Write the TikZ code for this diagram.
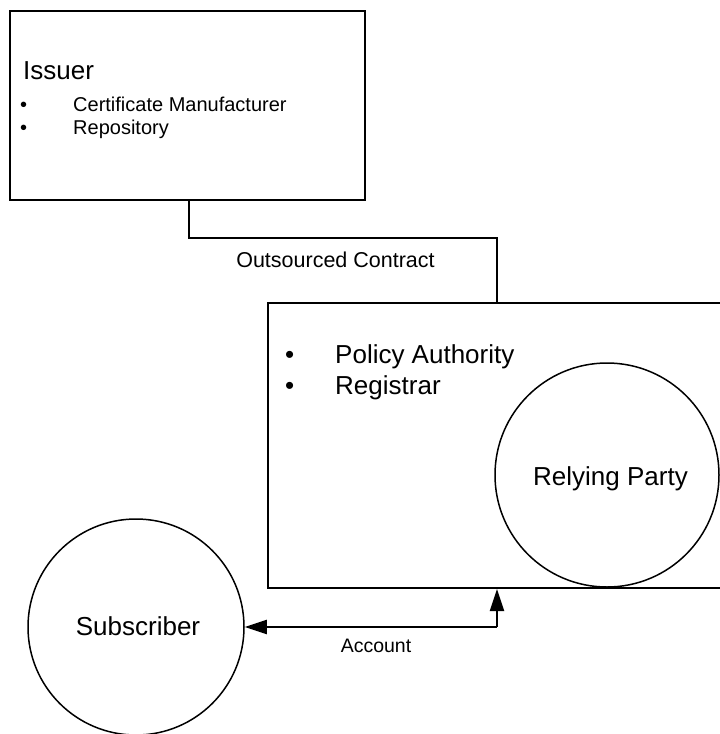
\documentclass[tikz,border=0pt]{standalone}
\usepackage{fontspec}
\setmainfont{Liberation Sans}
\usetikzlibrary{arrows.meta}
\tikzset{
  box/.style={draw, line width=2pt, rectangle, inner sep=0pt},
  party/.style={draw, line width=1.5pt, circle, inner sep=0pt},
  conn/.style={line width=2pt},
  tip/.style={-{Triangle[length=22pt,width=14pt]}},
  big/.style={font=\fontsize{26}{31}\selectfont, inner sep=0pt},
  small/.style={font=\fontsize{20}{23}\selectfont, inner sep=0pt},
}
\begin{document}
\begin{tikzpicture}[x=1pt,y=-1pt]
\clip (0,0) rectangle (720,734);
\fill[white] (0,0) rectangle (720,734);
% boxes
\node[box, minimum width=355pt, minimum height=189pt] (issuer) at (187.5,105.5) {};
\node[box, minimum width=458pt, minimum height=285pt] (org) at (497,445.5) {};
% circles
\node[party, minimum size=224pt] (rp) at (607,475) {};
\node[party, minimum size=216pt] (sub) at (136,627) {};
% texts
\node[big, anchor=base west] (tissuer) at (23,79) {Issuer};
\node[small, anchor=base west] (b1) at (20,111) {•};
\node[small, anchor=base west] (t1) at (73,111) {Certificate Manufacturer};
\node[small, anchor=base west] (b2) at (20,134) {•};
\node[small, anchor=base west] (t2) at (73,134) {Repository};
\node[big, anchor=base west] (b3) at (285,363) {•};
\node[big, anchor=base west] (t3) at (335,363) {Policy Authority};
\node[big, anchor=base west] (b4) at (285,394) {•};
\node[big, anchor=base west] (t4) at (335,394) {Registrar};
\node[big, anchor=base] (trp) at (610.5,485) {Relying Party};
\node[big, anchor=base] (tsub) at (138,635) {Subscriber};
% connectors
\draw[conn] ([xshift=1.5pt]issuer.south) -- ++(0,37) -| (org.north);
\node[font=\fontsize{21.5}{25}\selectfont, inner sep=0pt, anchor=base] (oc) at (335.5,267) {Outsourced Contract};
\draw[conn, tip] (org.south |- sub.east) -- (sub.east);
\draw[conn, tip] (org.south |- sub.east) -- (org.south);
\node[font=\fontsize{19.5}{23}\selectfont, inner sep=0pt, anchor=base] (acc) at (376,652) {Account};
\end{tikzpicture}
\end{document}
